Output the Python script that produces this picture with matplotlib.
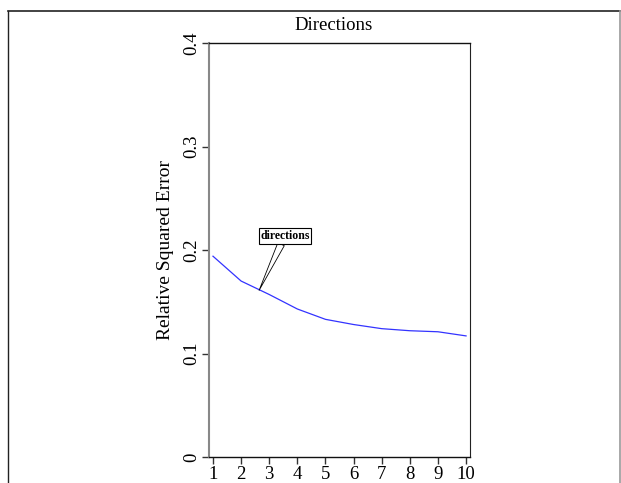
import matplotlib
matplotlib.use("Agg")
import matplotlib.pyplot as plt
from matplotlib.lines import Line2D

x_vals = [1, 2, 3, 4, 5, 6, 7, 8, 9, 10]
rse = [0.194, 0.170, 0.157, 0.143, 0.133, 0.128, 0.124, 0.122, 0.121, 0.117]
y_ticks = [0, 0.1, 0.2, 0.3, 0.4]
y_tick_labels = ["0", "0.1", "0.2", "0.3", "0.4"]
label_text = "directions"
label_point = (2.64, 0.161)

plt.rcParams['font.family'] = ['Liberation Serif', 'DejaVu Serif']

W, H = 621, 483
fig = plt.figure(figsize=(W / 100, H / 100), dpi=100)

def fx(px):
    return px / W

def fy(py):
    return 1 - py / H

# outer frame
fig.add_artist(Line2D([fx(8), fx(8)], [fy(11), 0], color='#222222', lw=1.0, transform=fig.transFigure))
fig.add_artist(Line2D([fx(8), fx(620)], [fy(11), fy(11)], color='#222222', lw=1.2, transform=fig.transFigure))
fig.add_artist(Line2D([fx(620), fx(620)], [fy(11), 0], color='#999999', lw=1.2, transform=fig.transFigure))

ax = fig.add_axes([fx(209), fy(457), fx(470) - fx(209), fy(43) - fy(457)])
ax.plot(x_vals, rse, color='#3333ff', lw=0.9)
ax.set_xlim(0.858, 10.14)
ax.set_ylim(0, 0.4)
ax.set_xticks(x_vals)
ax.set_xticklabels([str(v) for v in x_vals], fontsize=13.5)
ax.set_yticks(y_ticks)
ax.set_yticklabels(y_tick_labels, fontsize=13.5, rotation=90, va='center')
ax.tick_params(axis='both', direction='out', length=5, width=1, colors='#333333', labelcolor='black')
ax.tick_params(axis='x', pad=1.5)
ax.tick_params(axis='y', pad=1)
for s in ['top', 'bottom']:
    ax.spines[s].set_color('#111111')
    ax.spines[s].set_linewidth(1.0)
ax.spines['right'].set_color('#222222')
ax.spines['right'].set_linewidth(0.8)
ax.spines['left'].set_color('#888888')
ax.spines['left'].set_linewidth(1.5)

ax.set_ylabel("Relative Squared Error", fontsize=14, labelpad=7)
fig.text(fx(334), fy(25), "Directions", ha='center', va='center', fontsize=13.5)

ax.annotate(label_text, xy=label_point, xytext=(3.56, 0.2135), textcoords='data',
            fontsize=8.5, fontweight='bold', ha='center', va='center',
            bbox=dict(boxstyle='square,pad=0.15', fc='white', ec='black', lw=0.8),
            arrowprops=dict(arrowstyle='wedge,tail_width=0.6', fc='white', ec='black', lw=0.6,
                            shrinkA=0, shrinkB=0))

fig.savefig("out.png", dpi=100)
